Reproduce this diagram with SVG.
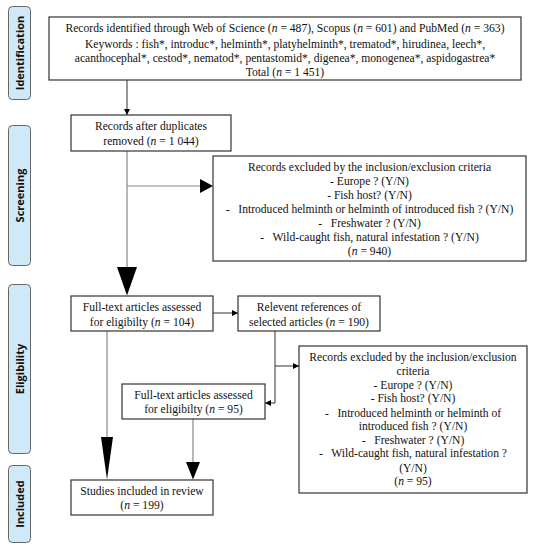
<svg xmlns="http://www.w3.org/2000/svg" width="534" height="550" viewBox="0 0 534 550">
<defs>
<style>
.box{fill:#fff;stroke:#333;stroke-width:1.2}
.phase{fill:#cfe9f9;stroke:#666;stroke-width:1}
.pt{font-family:'Open Sans','DejaVu Sans',sans-serif;font-weight:bold;font-size:11px;fill:#111;text-anchor:middle}
.t{font-size:11.6px;fill:#111;text-anchor:middle}
.i{font-style:italic}
.ln{fill:none;stroke:#888;stroke-width:1.2}
.ld{fill:none;stroke:#333;stroke-width:1}
.ah{fill:#000}
</style>
<marker id="sm" viewBox="0 0 6 6" refX="6" refY="3" markerWidth="6" markerHeight="6" markerUnits="userSpaceOnUse" orient="auto">
<path d="M0,0 L6,3 L0,6 Z" fill="#000"/>
</marker>
</defs>
<rect width="534" height="550" fill="#fff"/>

<g id="phase-identification">
<rect class="phase" x="8.5" y="6.5" width="22" height="93" rx="4"/>
<text class="pt" transform="translate(23.5,53) rotate(-90)">Identification</text>
</g>
<g id="phase-screening">
<rect class="phase" x="8.5" y="125.5" width="22" height="140" rx="4"/>
<text class="pt" transform="translate(23.5,195.5) rotate(-90)">Screening</text>
</g>
<g id="phase-eligibility">
<rect class="phase" x="8.5" y="284.5" width="22" height="169" rx="4"/>
<text class="pt" transform="translate(23.5,369) rotate(-90)">Eligibility</text>
</g>
<g id="phase-included">
<rect class="phase" x="8.5" y="465.5" width="22" height="77" rx="4"/>
<text class="pt" transform="translate(23.5,504) rotate(-90)">Included</text>
</g>

<g id="connectors">
<line class="ld" x1="127" y1="80" x2="127" y2="115" marker-end="url(#sm)"/>
<line class="ln" x1="127" y1="151" x2="127" y2="268"/>
<polygon class="ah" points="117,267 137,267 127,295.5"/>
<line class="ln" x1="127" y1="186" x2="201" y2="186"/>
<polygon class="ah" points="200,179 200,193 213,186"/>
<line class="ld" x1="213" y1="313" x2="238" y2="313" marker-end="url(#sm)"/>
<polyline class="ld" points="275,331 275,403 265,403" marker-end="url(#sm)"/>
<line class="ld" x1="275" y1="366" x2="299" y2="366" marker-end="url(#sm)"/>
<line class="ln" x1="107" y1="331" x2="107" y2="438"/>
<polygon class="ah" points="101,437 113,437 107,479.5"/>
<line class="ln" x1="193" y1="419" x2="193" y2="463"/>
<polygon class="ah" points="186,462 200,462 193,479.5"/>
</g>

<g font-family="'Liberation Serif', Tinos, 'Times New Roman', Times, serif">
<g id="n-records">
<rect class="box" x="49" y="17" width="472" height="63"/>
<text class="t" x="285" y="32">Records identified through Web of Science (<tspan class="i">n</tspan> = 487), Scopus (<tspan class="i">n</tspan> = 601) and PubMed (<tspan class="i">n</tspan> = 363)</text>
<text class="t" x="285" y="47.5">Keywords : fish*, introduc*, helminth*, platyhelminth*, trematod*, hirudinea, leech*,</text>
<text class="t" x="285" y="62">acanthocephal*, cestod*, nematod*, pentastomid*, digenea*, monogenea*, aspidogastrea*</text>
<text class="t" x="285" y="75.5">Total (<tspan class="i">n</tspan> = 1 451)</text>
</g>

<g id="n-dedup">
<rect class="box" x="71" y="115" width="160" height="36"/>
<text class="t" x="151" y="130">Records after duplicates</text>
<text class="t" x="151" y="144.7">removed (<tspan class="i">n</tspan> = 1 044)</text>
</g>

<g id="n-excl1">
<rect class="box" x="213" y="156" width="313" height="105"/>
<text class="t" x="369.5" y="171">Records excluded by the inclusion/exclusion criteria</text>
<text class="t" x="369.5" y="185">- Europe ? (Y/N)</text>
<text class="t" x="369.5" y="199">- Fish host? (Y/N)</text>
<text class="t" x="369.5" y="213" xml:space="preserve">-   Introduced helminth or helminth of introduced fish ? (Y/N)</text>
<text class="t" x="369.5" y="227" xml:space="preserve">-   Freshwater ? (Y/N)</text>
<text class="t" x="369.5" y="241" xml:space="preserve">-   Wild-caught fish, natural infestation ? (Y/N)</text>
<text class="t" x="369.5" y="255">(<tspan class="i">n</tspan> = 940)</text>
</g>

<g id="n-fulltext1">
<rect class="box" x="71" y="296" width="142" height="35"/>
<text class="t" x="142" y="310.7">Full-text articles assessed</text>
<text class="t" x="142" y="325.7">for eligibilty (<tspan class="i">n</tspan> = 104)</text>
</g>

<g id="n-refs">
<rect class="box" x="238" y="296" width="142" height="35"/>
<text class="t" x="309" y="310.7">Relevent references of</text>
<text class="t" x="309" y="325.7">selected articles (<tspan class="i">n</tspan> = 190)</text>
</g>

<g id="n-fulltext2">
<rect class="box" x="122" y="384" width="143" height="35"/>
<text class="t" x="193.5" y="399">Full-text articles assessed</text>
<text class="t" x="193.5" y="413.3">for eligibilty (<tspan class="i">n</tspan> = 95)</text>
</g>

<g id="n-excl2">
<rect class="box" x="299" y="346" width="228" height="147"/>
<text class="t" x="413" y="361.3">Records excluded by the inclusion/exclusion</text>
<text class="t" x="413" y="375">criteria</text>
<text class="t" x="413" y="389">- Europe ? (Y/N)</text>
<text class="t" x="413" y="402.3">- Fish host? (Y/N)</text>
<text class="t" x="413" y="416.7" xml:space="preserve">-   Introduced helminth or helminth of</text>
<text class="t" x="413" y="430">introduced fish ? (Y/N)</text>
<text class="t" x="413" y="444" xml:space="preserve">-   Freshwater ? (Y/N)</text>
<text class="t" x="413" y="457.3" xml:space="preserve">-   Wild-caught fish, natural infestation ?</text>
<text class="t" x="413" y="471.7">(Y/N)</text>
<text class="t" x="413" y="485">(<tspan class="i">n</tspan> = 95)</text>
</g>

<g id="n-included">
<rect class="box" x="71" y="480" width="142" height="35"/>
<text class="t" x="142" y="494.7">Studies included in review</text>
<text class="t" x="142" y="509.3">(<tspan class="i">n</tspan> = 199)</text>
</g>
</g>
</svg>
